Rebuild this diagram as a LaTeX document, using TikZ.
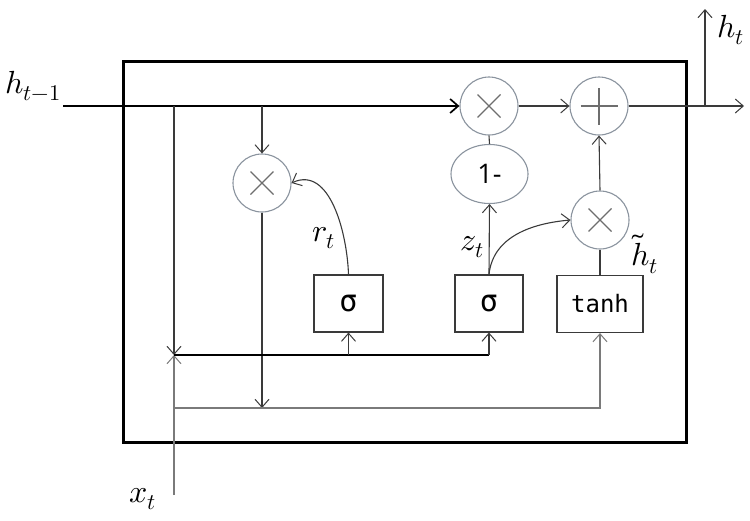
\documentclass[tikz,border=0pt]{standalone}
\usepackage{fontspec}
\usepackage{unicode-math}
\setmathfont{Latin Modern Math}
\usetikzlibrary{arrows.meta,shapes.geometric}
\newfontfamily\opfont{Open Sans}
\newfontfamily\monofont{DejaVu Sans Mono}
\definecolor{ringc}{HTML}{8A939E}
\definecolor{signc}{HTML}{6E6E6E}
\definecolor{linec}{HTML}{3A3A3A}
\definecolor{greyl}{HTML}{7A7A7A}
\begin{document}
\begin{tikzpicture}[x=1pt,y=-1pt,
  arr/.style={-{Straight Barb[length=8pt,width=14pt,line width=1pt]}},
  thickarr/.style={-{Straight Barb[length=8pt,width=14pt,line width=1.7pt]}},
  op/.style={circle, draw=ringc, line width=1.1pt, minimum size=58pt, inner sep=0pt},
  timesop/.style={op, path picture={
      \draw[signc, line width=1.3pt] ([shift={(-11.5pt,-11.5pt)}]path picture bounding box.center) -- ([shift={(11.5pt,11.5pt)}]path picture bounding box.center);
      \draw[signc, line width=1.3pt] ([shift={(-11.5pt,11.5pt)}]path picture bounding box.center) -- ([shift={(11.5pt,-11.5pt)}]path picture bounding box.center);}},
  plusop/.style={op, path picture={
      \draw[signc, line width=1.3pt] ([shift={(-18.5pt,0pt)}]path picture bounding box.center) -- ([shift={(18.5pt,0pt)}]path picture bounding box.center);
      \draw[signc, line width=1.3pt] ([shift={(0pt,-18.5pt)}]path picture bounding box.center) -- ([shift={(0pt,18.5pt)}]path picture bounding box.center);}},
  gatebox/.style={rectangle, draw=linec, line width=1.1pt, minimum height=57pt, inner sep=0pt, font=\monofont\fontsize{24}{26}\selectfont},
  sigbox/.style={gatebox, font=\monofont\fontsize{30}{32}\selectfont},
  lbl/.style={inner sep=0pt, font=\fontsize{32}{34}\selectfont},
  wire/.style={draw=linec, line width=1.1pt},
  gwire/.style={draw=greyl, line width=1.1pt}
]
\useasboundingbox (0,0) rectangle (750,520);

% outer cell box
\draw[line width=3pt, black] (123,61) rectangle (686,442);

% operator nodes
\node[timesop] (hm) at (489,106) {};
\node[plusop]  (pl) at (599,106) {};
\node[ellipse, draw=ringc, line width=1.1pt, minimum width=77pt, minimum height=59pt, inner sep=0pt,
      font=\opfont\fontsize{27}{29}\selectfont] (om) at (489.5,174) {1-};
\node[timesop] (rx) at (262,183) {};
\node[timesop] (hx) at (600,220) {};

% gates
\node[sigbox, minimum width=69pt] (sr) at (348.5,303.5) {σ};
\node[sigbox, minimum width=68pt] (sz) at (489,303.5) {σ};
\node[gatebox, minimum width=86pt] (th) at (600,304) {tanh};

% coordinates
\coordinate (hin) at (63,106);
\coordinate (j1) at (174,106);
\coordinate (j2) at (262,106);
\coordinate (jx) at (174,355);
\coordinate (xin) at (174,495);
\coordinate (lb) at (174,408);
\coordinate (lr) at (262,408);
\coordinate (lt) at (600,408);
\coordinate (ht) at (705,106);
\coordinate (httop) at (705,9);
\coordinate (out) at (744,106);

% h_{t-1} input line
\draw[black, line width=2pt, thickarr] (hin) -- (hm.west);
\draw[wire, line width=1.4pt, arr] (j1) -- (jx);
\draw[wire, arr] (j2) -- (rx.north);
\draw[wire, arr] (rx.south) -- (lr);

% x_t input
\draw[gwire, arr] (xin) -- (jx);
\draw[gwire, arr] (lb) -- (lt) -- (th.south);

% concatenated input to sigma gates
\draw[black, line width=2pt] (jx) -- (sz.south |- jx);
\draw[wire, arr] (sr.south |- jx) -- (sr.south);
\draw[wire, arr] (sz.south |- jx) -- (sz.south);

% gate outputs
\draw[wire, arr] (sr.north) to[out=92,in=25] (rx.east);
\draw[wire, arr] (sz.north) -- (om.south);
\draw[wire, arr] (sz.north) to[out=84,in=185] (hx.west);
\draw[wire] (th.north) -- (hx.south);
\draw[wire, arr] (hx.north) -- (pl.south);
\draw[wire] (hm.south) -- (om.north);
\draw[wire, arr] (hm.east) -- (pl.west);
\draw[wire, arr] (pl.east) -- (out);
\draw[wire, arr] (ht) -- (httop);

% labels
\node[lbl] (lhp) at (33,86) {$h_{t-1}$};
\node[lbl] (lht) at (731,30) {$h_t$};
\node[lbl] (lxt) at (143,499) {$x_t$};
\node[lbl] (lrt) at (324,238) {$r_t$};
\node[lbl] (lzt) at (472,247) {$z_t$};
\node[lbl] (lhtt) at (645,254) {$\widetilde{h}_t$};
\end{tikzpicture}
\end{document}
